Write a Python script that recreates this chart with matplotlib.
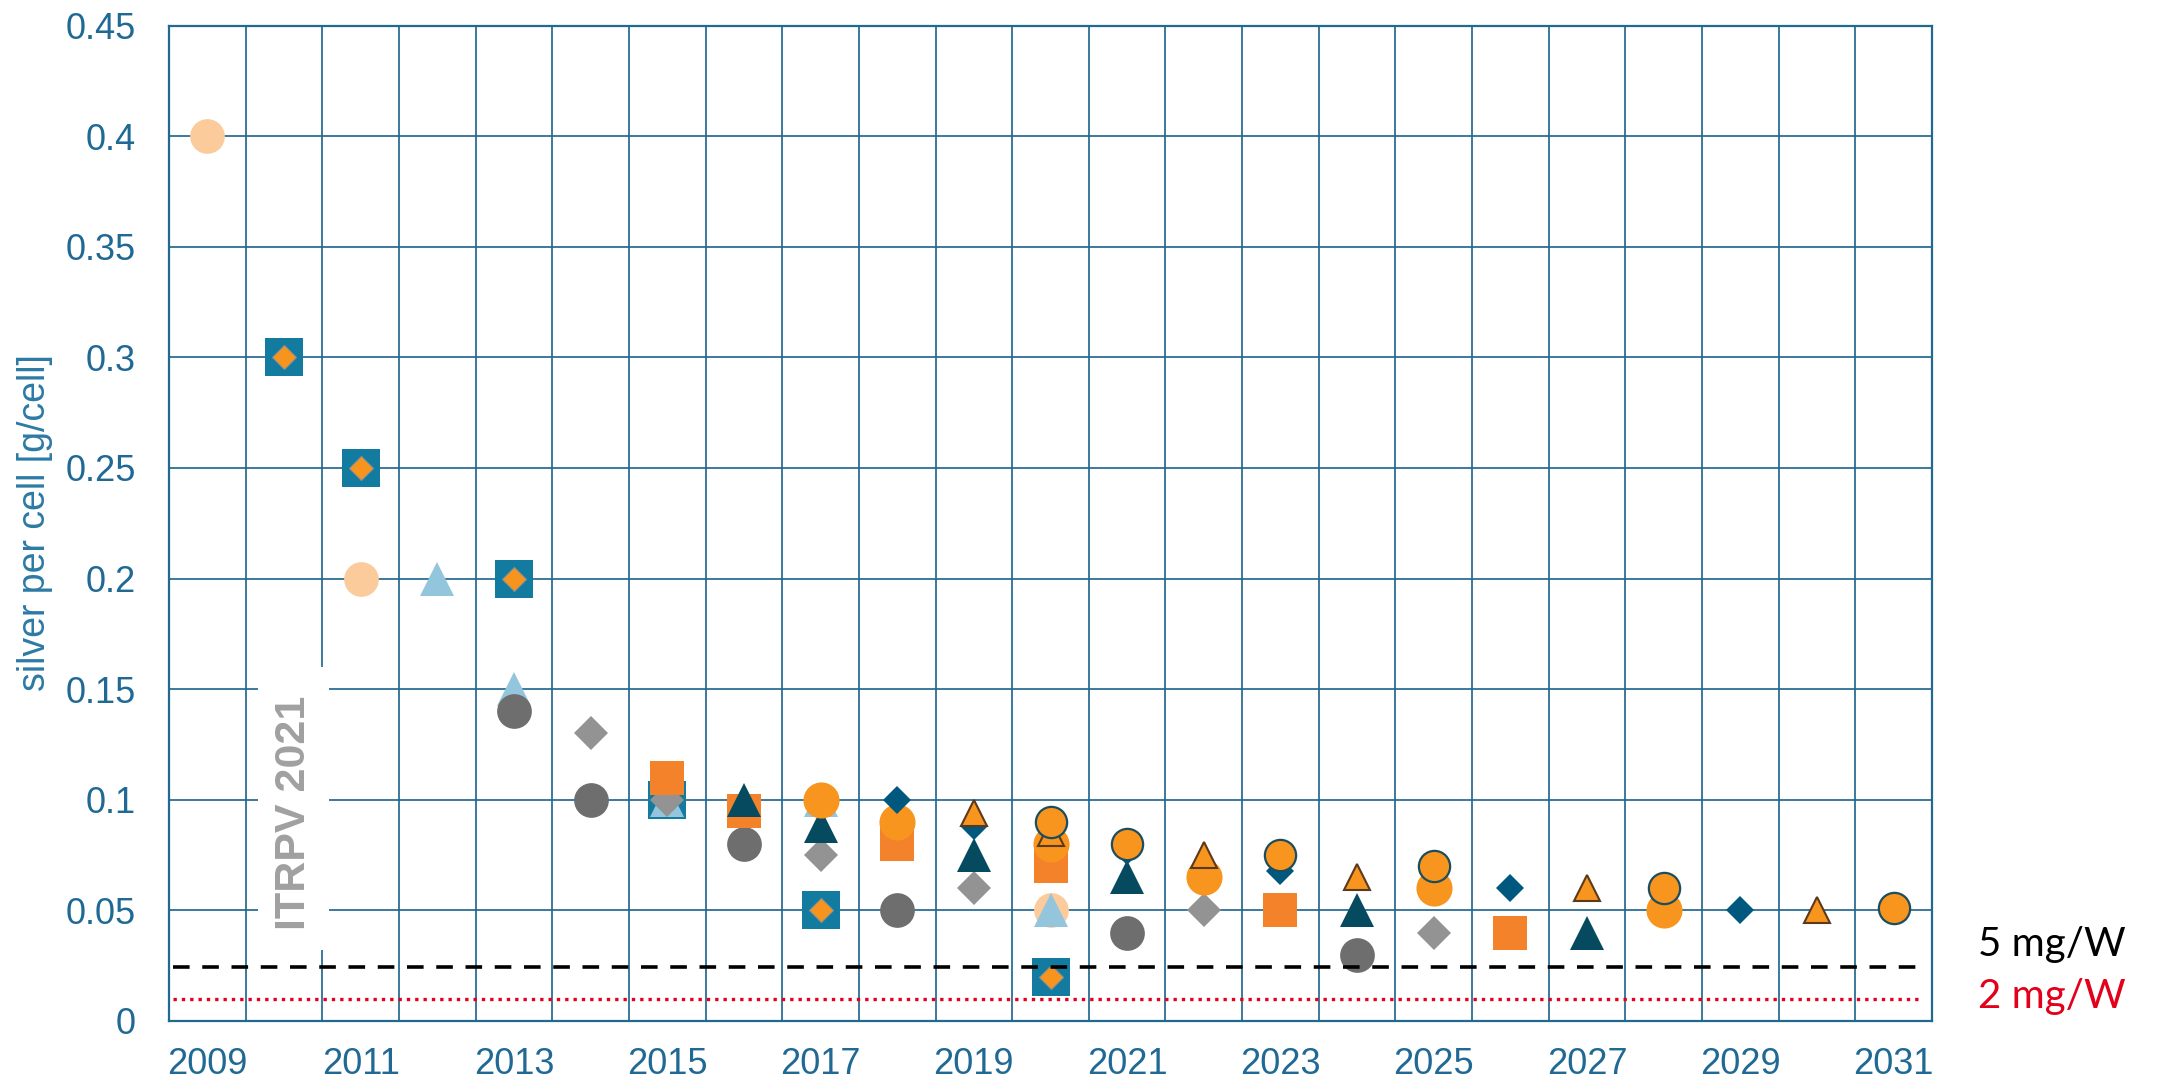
import matplotlib
matplotlib.use("Agg")
import matplotlib.pyplot as plt
from matplotlib.patches import Rectangle

# ---------------- data ----------------
x_tick_years = [2009, 2011, 2013, 2015, 2017, 2019, 2021, 2023, 2025, 2027, 2029, 2031]
y_ticks = [0, 0.05, 0.1, 0.15, 0.2, 0.25, 0.3, 0.35, 0.4, 0.45]
y_tick_labels = ["0", "0.05", "0.1", "0.15", "0.2", "0.25", "0.3", "0.35", "0.4", "0.45"]
grid_years = [2009.5 + i for i in range(22)]

# series (one per ITRPV edition), drawn in this order
peach_circle_years = [2009, 2011, 2020]
peach_circle_vals = [0.40, 0.20, 0.05]

teal_square_years = [2010, 2011, 2013, 2015, 2017, 2020]
teal_square_vals = [0.30, 0.25, 0.20, 0.10, 0.05, 0.02]

lightblue_tri_years = [2012, 2013, 2015, 2017, 2020]
lightblue_tri_vals = [0.20, 0.15, 0.10, 0.10, 0.05]

darkgray_circle_years = [2013, 2014, 2016, 2018, 2021, 2024]
darkgray_circle_vals = [0.14, 0.10, 0.08, 0.05, 0.04, 0.03]

gray_diamond_years = [2014, 2015, 2017, 2019, 2022, 2025]
gray_diamond_vals = [0.13, 0.10, 0.075, 0.06, 0.05, 0.04]

orange_square_years = [2015, 2016, 2018, 2020, 2023, 2026]
orange_square_vals = [0.11, 0.095, 0.08, 0.07, 0.05, 0.04]

darkteal_tri_years = [2016, 2017, 2019, 2021, 2024, 2027]
darkteal_tri_vals = [0.10, 0.088, 0.075, 0.065, 0.05, 0.04]

orange_circle_years = [2017, 2018, 2020, 2022, 2025, 2028]
orange_circle_vals = [0.10, 0.09, 0.08, 0.065, 0.06, 0.05]

darkblue_diamond_years = [2018, 2019, 2021, 2023, 2026, 2029]
darkblue_diamond_vals = [0.10, 0.088, 0.077, 0.068, 0.06, 0.05]

orange_tri_edge_years = [2019, 2020, 2022, 2024, 2027, 2030]
orange_tri_edge_vals = [0.094, 0.085, 0.075, 0.065, 0.06, 0.05]

orange_circle_edge_years = [2020, 2021, 2023, 2025, 2028, 2031]
orange_circle_edge_vals = [0.09, 0.08, 0.075, 0.07, 0.06, 0.051]

limit_5mg = 0.0245   # 5 mg/W expressed per cell
limit_2mg = 0.0100   # 2 mg/W expressed per cell
label_5mg = "5 mg/W"
label_2mg = "2 mg/W"
itrpv_label = "ITRPV 2021"
y_label = "silver per cell [g/cell]"

# ---------------- figure ----------------
fig = plt.figure(figsize=(21.69, 10.85), dpi=100)
ax = fig.add_axes([169 / 2169, 1 - 1021 / 1085, (1932 - 169) / 2169, (1021 - 25.5) / 1085])

grid_color = "#22698F"
tick_color = "#1F6994"

ax.set_xlim(2008.5, 2031.5)
ax.set_ylim(0, 0.45)
ax.set_xticks(x_tick_years)
ax.set_xticklabels([str(y) for y in x_tick_years])
ax.set_xticks(grid_years, minor=True)
ax.set_yticks(y_ticks)
ax.set_yticklabels(y_tick_labels)
ax.set_axisbelow(True)
ax.grid(False)
ax.grid(True, which="minor", axis="x", color=grid_color, lw=1.25)
ax.grid(True, which="major", axis="y", color=grid_color, lw=1.25)
for s in ax.spines.values():
    s.set_color(grid_color)
    s.set_linewidth(1.6)
ax.tick_params(axis="both", which="both", length=0, labelsize=26, labelcolor=tick_color)
ax.tick_params(axis="x", pad=19)
ax.tick_params(axis="y", pad=24)
for lab in ax.get_xticklabels() + ax.get_yticklabels():
    lab.set_family("Liberation Sans")

# series
def plot_series(xs, ys, marker, ms, face, edge=None, mew=0.0, z=3):
    ax.plot(xs, ys, linestyle="none", marker=marker, markersize=ms,
            markerfacecolor=face, markeredgecolor=edge if edge else face,
            markeredgewidth=mew, zorder=z)

plot_series(peach_circle_years, peach_circle_vals, "o", 25, "#FCCB9C", z=3)
plot_series(teal_square_years, teal_square_vals, "s", 27, "#137BA0", z=3.1)
plot_series(teal_square_years, teal_square_vals, "D", 12.5, "#F7941D", edge="#8E8E8E", mew=0.8, z=3.2)
plot_series(lightblue_tri_years, lightblue_tri_vals, "^", 25, "#93C5DD", z=3.3)
plot_series(darkgray_circle_years, darkgray_circle_vals, "o", 25, "#6E6E6E", z=3.4)
plot_series(gray_diamond_years, gray_diamond_vals, "D", 17, "#939393", z=3.5)
plot_series(orange_square_years, orange_square_vals, "s", 24.5, "#F4822A", z=3.6)
plot_series(darkteal_tri_years, darkteal_tri_vals, "^", 25, "#064A60", z=3.7)
plot_series(orange_circle_years, orange_circle_vals, "o", 26, "#F7951F", z=3.8)
plot_series(darkblue_diamond_years, darkblue_diamond_vals, "D", 14, "#00587F", z=3.9)
plot_series(orange_tri_edge_years, orange_tri_edge_vals, "^", 18.5, "#F7951F", edge="#5B3A1C", mew=1.5, z=4.0)
plot_series(orange_circle_edge_years, orange_circle_edge_vals, "o", 22.5, "#F7951F", edge="#1C4D5E", mew=1.6, z=4.1)

# limit lines
ax.axhline(limit_5mg, xmin=0.002, xmax=0.997, color="black", lw=2.6,
           linestyle=(0, (4.6, 3.5)), zorder=10)
ax.axhline(limit_2mg, xmin=0.002, xmax=0.995, color="#E2001A", lw=2.4,
           linestyle=(0, (1, 1.5)), zorder=10)

# ITRPV 2021 label box (covers grid)
ax.add_patch(Rectangle((2009.66, 0.032), 0.93, 0.128, facecolor="white",
                       edgecolor="none", zorder=1.5))
ax.text(2010.13, 0.094, itrpv_label, rotation=90, ha="center", va="center",
        fontsize=31, fontweight="bold", color="#A0A0A0",
        family="Liberation Sans", zorder=2)

# texts outside axes
fig.text(1978 / 2169, 1 - 956 / 1085, label_5mg, fontsize=29, family="Lato",
         color="black", ha="left", va="baseline")
fig.text(1978 / 2169, 1 - 1008 / 1085, label_2mg, fontsize=29, family="Lato",
         color="#E2001A", ha="left", va="baseline")

fig.text(35.5 / 2169, 1 - 523 / 1085, y_label, rotation=90, ha="center", va="center",
         fontsize=27, color="#2C7AA5", family="Liberation Sans")

fig.savefig("out.png", dpi=100)
